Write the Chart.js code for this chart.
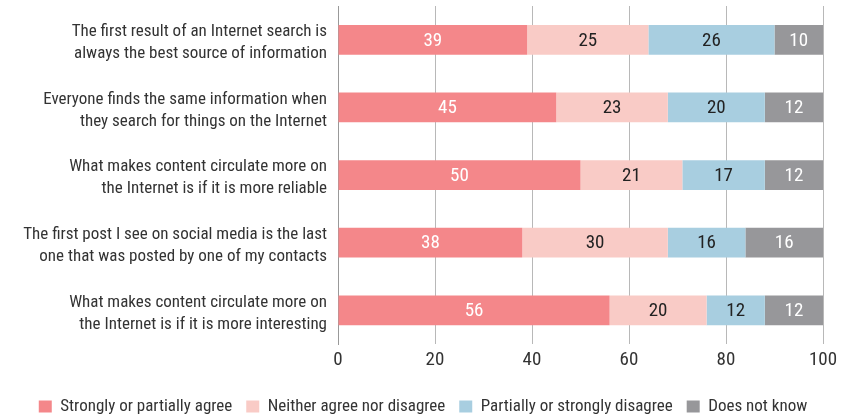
<!DOCTYPE html>
<html>
<head>
<meta charset="utf-8">
<script src="https://cdn.jsdelivr.net/npm/chart.js@4/dist/chart.umd.min.js"></script>
<style>
  html, body { margin: 0; padding: 0; background: #fff; }
  #wrap { width: 841px; height: 415px; position: relative; }
</style>
</head>
<body>
<div id="wrap"><canvas id="c"></canvas></div>
<script>
const categories = [
  ["The first result of an Internet search is", "always the best source of information"],
  ["Everyone finds the same information when", "they search for things on the Internet"],
  ["What makes content circulate more on", "the Internet is if it is more reliable"],
  ["The first post I see on social media is the last", "one that was posted by one of my contacts"],
  ["What makes content circulate more on", "the Internet is if it is more interesting"]
];
const seriesNames = [
  "Strongly or partially agree",
  "Neither agree nor disagree",
  "Partially or strongly disagree",
  "Does not know"
];
const agree = [39, 45, 50, 38, 56];
const neutral = [25, 23, 21, 30, 20];
const disagree = [26, 20, 17, 16, 12];
const dontKnow = [10, 12, 12, 16, 12];
const xTicks = [0, 20, 40, 60, 80, 100];

const FONT = '"Roboto Condensed", "Open Sans", sans-serif';
const colors = ["#F4878A", "#F9CBC6", "#A8CEE0", "#97979A"];
const labelColors = ["#ffffff", "#222222", "#222222", "#ffffff"];
const seriesValues = [agree, neutral, disagree, dontKnow];

const valueLabels = {
  id: 'valueLabels',
  afterLayout(chart) {
    const lg = chart.legend;
    if (lg) { lg.top += 7; lg.bottom += 7; }
  },
  afterDatasetsDraw(chart) {
    const ctx = chart.ctx;
    ctx.save();
    ctx.font = '19px ' + FONT;
    ctx.textAlign = 'center';
    ctx.textBaseline = 'middle';
    chart.data.datasets.forEach((ds, i) => {
      const meta = chart.getDatasetMeta(i);
      meta.data.forEach((bar, j) => {
        const p = bar.getProps(['x', 'y', 'base'], true);
        ctx.fillStyle = labelColors[i];
        ctx.fillText(String(ds.data[j]), (p.x + p.base) / 2, p.y + 1);
      });
    });
    ctx.restore();
  }
};

new Chart(document.getElementById('c'), {
  type: 'bar',
  data: {
    labels: categories,
    datasets: seriesNames.map((n, i) => ({
      label: n,
      data: seriesValues[i],
      backgroundColor: colors[i],
      borderWidth: 0,
      categoryPercentage: 0.44,
      barPercentage: 1.0
    }))
  },
  options: {
    indexAxis: 'y',
    responsive: true,
    maintainAspectRatio: false,
    animation: false,
    layout: { padding: { top: 6, right: 18, left: 23, bottom: -3 } },
    scales: {
      x: {
        stacked: true,
        min: 0, max: 100,
        afterBuildTicks(scale) { scale.ticks = xTicks.map(v => ({ value: v })); },
        afterFit(scale) { scale.paddingLeft = 0; scale.paddingRight = 0; },
        grid: { color: '#b8b8b8', lineWidth: 1, drawTicks: false },
        border: { display: false },
        ticks: { font: { family: FONT, size: 19 }, color: '#333', padding: 5 }
      },
      y: {
        stacked: true,
        afterFit(scale) { scale.width = 315; scale.paddingTop = 0; scale.paddingBottom = 0; },
        grid: { display: false, drawTicks: false },
        border: { display: true, color: '#999', width: 1 },
        ticks: { font: { family: FONT, size: 17, lineHeight: 1.3 }, color: '#333', padding: 11, labelOffset: 3 }
      }
    },
    plugins: {
      legend: {
        position: 'bottom',
        labels: { boxWidth: 13, boxHeight: 12, padding: 14, font: { family: FONT, size: 17 }, color: '#333' }
      },
      tooltip: { enabled: false }
    }
  },
  plugins: [valueLabels]
});
</script>
</body>
</html>
